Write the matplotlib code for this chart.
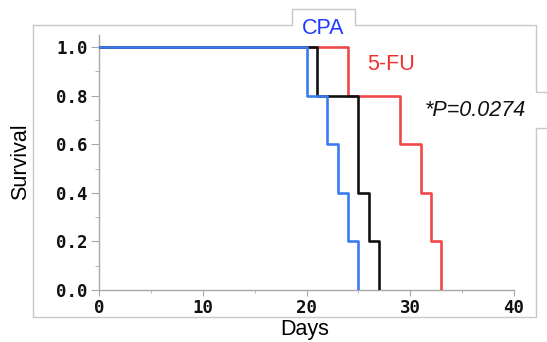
#!/usr/bin/env python3
"""Kaplan-Meier style survival curves: control vs CPA vs 5-FU."""

import matplotlib
matplotlib.use("Agg")
import matplotlib.pyplot as plt
from matplotlib.lines import Line2D
from matplotlib.ticker import MultipleLocator

# survival steps (day of each death event, survival after it)
days_ctrl = [0, 21, 25, 26, 27]
surv_ctrl = [1.0, 0.8, 0.4, 0.2, 0.0]
days_cpa = [0, 20, 22, 23, 24, 25]
surv_cpa = [1.0, 0.8, 0.6, 0.4, 0.2, 0.0]
days_5fu = [0, 24, 29, 31, 32, 33]
surv_5fu = [1.0, 0.8, 0.6, 0.4, 0.2, 0.0]

x_ticks = [0, 10, 20, 30, 40]
y_ticks = [0.0, 0.2, 0.4, 0.6, 0.8, 1.0]
p_text = "*P=0.0274"

W, H = 547, 342
fig = plt.figure(figsize=(W / 100, H / 100), dpi=100)
ax = fig.add_axes([99 / W, 52 / H, 415 / W, 255 / H])

lw = 1.9
ax.step(days_5fu, surv_5fu, where="post", color="#f04848", lw=lw, zorder=3)
ax.step(days_ctrl, surv_ctrl, where="post", color="#111111", lw=lw, zorder=4)
ax.step(days_cpa, surv_cpa, where="post", color="#3c7cf2", lw=lw, zorder=5)

ax.set_xlim(0, 40)
ax.set_ylim(0, 1.05)
ax.set_xticks(x_ticks)
ax.set_yticks(y_ticks)
ax.set_yticklabels([f"{v:.1f}" for v in y_ticks])
ax.xaxis.set_minor_locator(MultipleLocator(5))
ax.yaxis.set_minor_locator(MultipleLocator(0.1))

for s in ["top", "right"]:
    ax.spines[s].set_visible(False)
for s in ["left", "bottom"]:
    ax.spines[s].set_color("#a8a8a8")
    ax.spines[s].set_linewidth(1.0)

tick_font = dict(family="DejaVu Sans Mono", weight="bold", size=12.5)
ax.tick_params(axis="y", which="major", length=6, color="#a8a8a8", pad=2)
ax.tick_params(axis="y", which="minor", length=3, color="#a8a8a8")
ax.tick_params(axis="x", which="major", length=4, color="#a8a8a8", pad=2.5)
ax.tick_params(axis="x", which="minor", length=2.5, color="#a8a8a8")
for lab in ax.get_xticklabels() + ax.get_yticklabels():
    lab.set_fontproperties(tick_font)
    lab.set_color("#111111")

label_font = dict(family="Liberation Sans", size=15.5)
fig.text(21 / W, 1 - 162 / H, "Survival", rotation=90, ha="center", va="center", **label_font)
fig.text(305 / W, 1 - 329 / H, "Days", ha="center", va="center", **label_font)

# light gray panel frame with tab and notch
fc = "#c8c8c8"
frame = [
    [(33, 25), (33, 317), (535.6, 317), (535.6, 128.3), (547, 128.3)],
    [(33, 25), (292, 25), (292, 9), (355, 9), (355, 25), (535.6, 25),
     (535.6, 91.7), (547, 91.7)],
]
for pts in frame:
    xs = [p[0] / W for p in pts]
    ys = [1 - p[1] / H for p in pts]
    fig.add_artist(Line2D(xs, ys, color=fc, lw=1.0, transform=fig.transFigure))

fig.text(322.7 / W, 1 - 28 / H, "CPA", color="#1e3cff", ha="center", va="center", **label_font)
fig.text(391 / W, 1 - 65 / H, "5-FU", color="#f03030", ha="center", va="center", **label_font)
fig.text(475 / W, 1 - 111 / H, p_text, color="#111111", ha="center", va="center",
         style="italic", **label_font)

fig.savefig("out.png", dpi=100)
